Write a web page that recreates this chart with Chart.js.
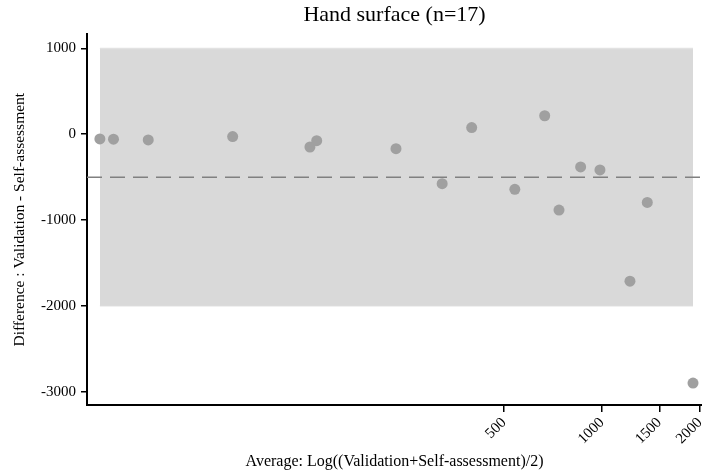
<!DOCTYPE html>
<html>
<head>
<meta charset="utf-8">
<script src="https://cdn.jsdelivr.net/npm/chart.js@4"></script>
<style>
  html, body { margin: 0; padding: 0; background: #fff; }
  #wrap { width: 702px; height: 472px; }
</style>
</head>
<body>
<div id="wrap"><canvas id="grafica"></canvas></div>
<script>
// averages (x, log axis) and differences (y)
const promedios = [28.7, 31.6, 40.4, 73.4, 126.8, 133, 233, 323, 398, 540, 667, 738, 860, 986, 1219, 1378, 1904];
const diferencias = [-55, -58, -67, -28, -149, -75, -169, -576, 77, -642, 215, -884, -381, -416, -1712, -795, -2900];

const mediaDif = -500;
const limiteSup = 1000;
const limiteInf = -2000;

const ticksX = [500, 1000, 1500, 2000];
const ticksY = [1000, 0, -1000, -2000, -3000];

const xMin = 26.2, xMax = 2029;
const yMin = -3155, yMax = 1163;

const fuente = "'Liberation Serif', 'Times New Roman', serif";

const xBandaIni = Math.min(...promedios);
const xBandaFin = Math.max(...promedios);

new Chart(document.getElementById('grafica'), {
    type: 'scatter',
    data: {
        datasets: [
            {
                type: 'line', label: 'sup',
                data: [{ x: xBandaIni, y: limiteSup }, { x: xBandaFin, y: limiteSup }],
                borderColor: '#e2e2e2', borderWidth: 1.5, pointRadius: 0,
                backgroundColor: '#d9d9d9', fill: '+1', order: 3
            },
            {
                type: 'line', label: 'inf',
                data: [{ x: xBandaIni, y: limiteInf }, { x: xBandaFin, y: limiteInf }],
                borderColor: '#e2e2e2', borderWidth: 1.5, pointRadius: 0, fill: false, order: 3
            },
            {
                type: 'line', label: 'media',
                data: [{ x: xMin, y: mediaDif }, { x: xMax, y: mediaDif }],
                borderColor: '#808080', borderWidth: 1.5, borderDash: [15, 8],
                pointRadius: 0, fill: false, order: 2
            },
            {
                label: 'puntos',
                data: promedios.map((x, i) => ({ x: x, y: diferencias[i] })),
                backgroundColor: '#a0a0a0', borderWidth: 0, pointRadius: 5.5, order: 1
            }
        ]
    },
    options: {
        responsive: true, maintainAspectRatio: false, animation: false,
        layout: { autoPadding: false, padding: { left: 0, right: 0, top: 0, bottom: 0 } },
        plugins: {
            legend: { display: false },
            tooltip: { enabled: false },
            title: {
                display: true, text: 'Hand surface (n=17)', fullSize: false,
                color: '#000', font: { family: fuente, size: 22, weight: 'normal' },
                padding: { top: 2, bottom: 6 }
            }
        },
        scales: {
            x: {
                type: 'logarithmic', min: xMin, max: xMax,
                afterBuildTicks: s => { s.ticks = ticksX.map(v => ({ value: v })); },
                afterFit: s => { s.height = 67; s.paddingLeft = 0; s.paddingRight = 0; },
                grid: { drawOnChartArea: false, drawTicks: true, tickLength: 7, color: '#000', lineWidth: 1.5 },
                border: { display: true, color: '#000', width: 2 },
                ticks: {
                    color: '#000', font: { family: fuente, size: 15 },
                    minRotation: 45, maxRotation: 45, padding: 2, autoSkip: false,
                    callback: v => String(v)
                },
                title: {
                    display: true, text: 'Average: Log((Validation+Self-assessment)/2)',
                    color: '#000', font: { family: fuente, size: 16 }, padding: { top: 0, bottom: 1 }
                }
            },
            y: {
                min: yMin, max: yMax,
                afterBuildTicks: s => { s.ticks = ticksY.map(v => ({ value: v })); },
                afterFit: s => { s.width = 87; },
                grid: { drawOnChartArea: false, drawTicks: true, tickLength: 6, color: '#000', lineWidth: 1.5 },
                border: { display: true, color: '#000', width: 2 },
                ticks: { color: '#000', font: { family: fuente, size: 15 }, padding: 5, callback: v => String(v) },
                title: {
                    display: true, text: 'Difference : Validation - Self-assessment',
                    color: '#000', font: { family: fuente, size: 15.5 }, padding: { top: 11, bottom: 0 }
                }
            }
        }
    }
});
</script>
</body>
</html>
